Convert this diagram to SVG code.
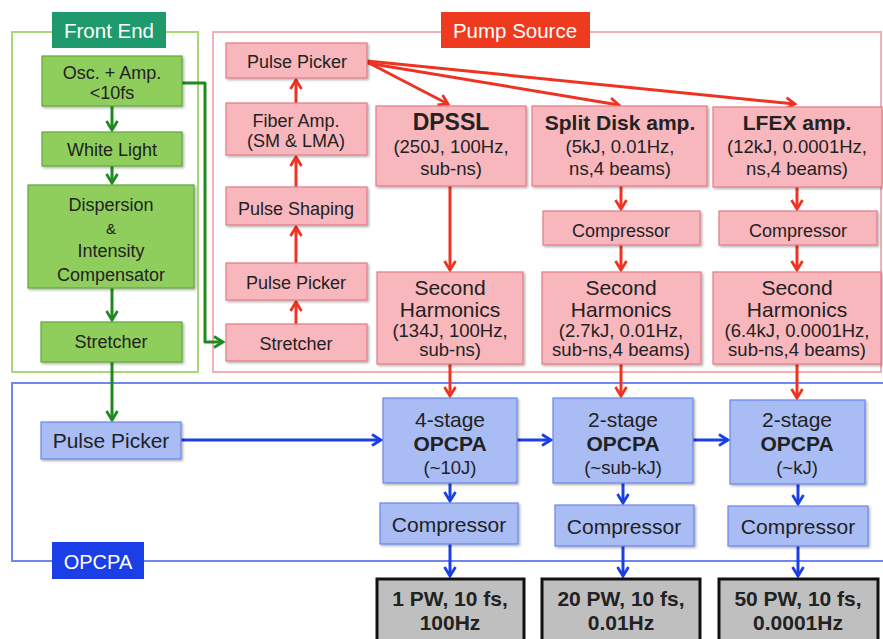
<svg xmlns="http://www.w3.org/2000/svg" width="883" height="639" viewBox="0 0 883 639">
  <style>
    text { font-family: "Liberation Sans", Arial, sans-serif; fill: #222; text-anchor: middle; }
    .b { font-weight: bold; }
    .grp { fill: none; stroke-width: 2; }
    .g { fill: #8fce5c; stroke: #5fa83a; stroke-width: 1.2; filter: url(#sh); }
    .p { fill: #f8b6bd; stroke: #e57b84; stroke-width: 1.2; filter: url(#sh); }
    .u { fill: #a9bcf4; stroke: #6c86ec; stroke-width: 1.2; filter: url(#sh); }
    .o { fill: #bfbfbf; stroke: #111; stroke-width: 3; }
    .lg { fill: none; stroke: #1f8a1f; stroke-width: 3; stroke-linejoin: round; }
    .lr { fill: none; stroke: #ee3322; stroke-width: 3; stroke-linejoin: round; }
    .lb { fill: none; stroke: #1a3fe6; stroke-width: 3; stroke-linejoin: round; }
    .t18 { font-size: 18px; }
    .t21 { font-size: 21px; }
    .lbl { fill: #fff; font-size: 20.5px; }
  </style>
  <defs>
    <filter id="sh" x="-10%" y="-10%" width="130%" height="140%">
      <feDropShadow dx="1.5" dy="1.5" stdDeviation="1" flood-color="#000" flood-opacity="0.3"/>
    </filter>
    <marker id="ag" viewBox="0 0 10 10" refX="8" refY="5" markerWidth="4.6" markerHeight="4.6" orient="auto" markerUnits="strokeWidth">
      <polyline points="1.5,1 8,5 1.5,9" fill="none" stroke="#1f8a1f" stroke-width="2"/>
    </marker>
    <marker id="ar" viewBox="0 0 10 10" refX="8" refY="5" markerWidth="4.6" markerHeight="4.6" orient="auto" markerUnits="strokeWidth">
      <polyline points="1.5,1 8,5 1.5,9" fill="none" stroke="#ee3322" stroke-width="2"/>
    </marker>
    <marker id="ab" viewBox="0 0 10 10" refX="8" refY="5" markerWidth="4.6" markerHeight="4.6" orient="auto" markerUnits="strokeWidth">
      <polyline points="1.5,1 8,5 1.5,9" fill="none" stroke="#1a3fe6" stroke-width="2"/>
    </marker>
  </defs>

  <rect width="883" height="639" fill="#fff"/>

  <!-- section frames -->
  <g id="frames">
    <rect class="grp" x="12" y="32" width="186" height="340" stroke="#a8d87a"/>
    <rect class="grp" x="213" y="32" width="668" height="340" stroke="#f4b1b5"/>
    <rect class="grp" x="12" y="383" width="874" height="178" stroke="#7086ee"/>
  </g>

  <!-- section labels -->
  <g id="label-front-end">
    <rect x="52" y="12" width="114" height="36" fill="#1f9a6c"/>
    <text class="lbl" x="109" y="38">Front End</text>
  </g>
  <g id="label-pump-source">
    <rect x="441" y="12" width="149" height="36" fill="#ee3a1e"/>
    <text class="lbl" x="515" y="38">Pump Source</text>
  </g>
  <g id="label-opcpa">
    <rect x="52" y="542" width="92" height="37" fill="#1a3fe6"/>
    <text class="lbl" x="98" y="569" style="font-size:20px">OPCPA</text>
  </g>

  <!-- connectors -->
  <g id="connectors">
    <!-- front end chain -->
    <line class="lg" x1="112" y1="106" x2="112" y2="130" marker-end="url(#ag)"/>
    <line class="lg" x1="112" y1="166" x2="112" y2="183" marker-end="url(#ag)"/>
    <line class="lg" x1="112" y1="288" x2="112" y2="320" marker-end="url(#ag)"/>
    <line class="lg" x1="112" y1="362" x2="112" y2="420" marker-end="url(#ag)"/>
    <polyline class="lg" points="182,83 205,83 205,342 223,342" marker-end="url(#ag)"/>
    <!-- pump chain (upwards) -->
    <line class="lr" x1="296" y1="103" x2="296" y2="80" marker-end="url(#ar)"/>
    <line class="lr" x1="296" y1="187" x2="296" y2="157" marker-end="url(#ar)"/>
    <line class="lr" x1="296" y1="263" x2="296" y2="227" marker-end="url(#ar)"/>
    <line class="lr" x1="296" y1="324" x2="296" y2="302" marker-end="url(#ar)"/>
    <!-- fan-out to pump lasers -->
    <line class="lr" x1="367" y1="62" x2="448" y2="104" marker-end="url(#ar)"/>
    <line class="lr" x1="367" y1="63" x2="619" y2="105" marker-end="url(#ar)"/>
    <line class="lr" x1="367" y1="61" x2="795" y2="104" marker-end="url(#ar)"/>
    <!-- pump lasers down -->
    <line class="lr" x1="450" y1="186" x2="450" y2="270" marker-end="url(#ar)"/>
    <line class="lr" x1="621" y1="186" x2="621" y2="209" marker-end="url(#ar)"/>
    <line class="lr" x1="621" y1="245" x2="621" y2="270" marker-end="url(#ar)"/>
    <line class="lr" x1="797" y1="187" x2="797" y2="209" marker-end="url(#ar)"/>
    <line class="lr" x1="797" y1="245" x2="797" y2="270" marker-end="url(#ar)"/>
    <line class="lr" x1="450" y1="364" x2="450" y2="396" marker-end="url(#ar)"/>
    <line class="lr" x1="621" y1="364" x2="621" y2="396" marker-end="url(#ar)"/>
    <line class="lr" x1="797" y1="364" x2="797" y2="398" marker-end="url(#ar)"/>
    <!-- OPCPA chain -->
    <line class="lb" x1="181" y1="440" x2="381" y2="440" marker-end="url(#ab)"/>
    <line class="lb" x1="517" y1="440" x2="551" y2="440" marker-end="url(#ab)"/>
    <line class="lb" x1="693" y1="440" x2="728" y2="440" marker-end="url(#ab)"/>
    <line class="lb" x1="450" y1="483" x2="450" y2="501" marker-end="url(#ab)"/>
    <line class="lb" x1="623" y1="483" x2="623" y2="503" marker-end="url(#ab)"/>
    <line class="lb" x1="798" y1="484" x2="798" y2="504" marker-end="url(#ab)"/>
    <line class="lb" x1="450" y1="544" x2="450" y2="576" marker-end="url(#ab)"/>
    <line class="lb" x1="623" y1="546" x2="623" y2="576" marker-end="url(#ab)"/>
    <line class="lb" x1="798" y1="546" x2="798" y2="576" marker-end="url(#ab)"/>
  </g>

  <!-- Front End nodes -->
  <g id="osc-amp">
    <rect class="g" x="42" y="56" width="140" height="50"/>
    <text class="t18" x="112" y="79">Osc. + Amp.</text>
    <text class="t18" x="112" y="99">&lt;10fs</text>
  </g>
  <g id="white-light">
    <rect class="g" x="42" y="132" width="140" height="34"/>
    <text class="t18" x="112" y="156">White Light</text>
  </g>
  <g id="dispersion">
    <rect class="g" x="28" y="185" width="166" height="103"/>
    <text class="t18" x="111" y="211">Dispersion</text>
    <text class="t18" x="111" y="234" style="font-size:15px">&amp;</text>
    <text class="t18" x="111" y="257">Intensity</text>
    <text class="t18" x="111" y="281">Compensator</text>
  </g>
  <g id="fe-stretcher">
    <rect class="g" x="41" y="322" width="141" height="40"/>
    <text class="t18" x="111" y="348">Stretcher</text>
  </g>

  <!-- Pump Source nodes -->
  <g id="pump-pulse-picker-1">
    <rect class="p" x="226" y="43" width="141" height="35"/>
    <text class="t18" x="297" y="68">Pulse Picker</text>
  </g>
  <g id="fiber-amp">
    <rect class="p" x="226" y="103" width="141" height="52"/>
    <text class="t18" x="296" y="127">Fiber Amp.</text>
    <text class="t18" x="296" y="147">(SM &amp; LMA)</text>
  </g>
  <g id="pulse-shaping">
    <rect class="p" x="226" y="187" width="141" height="38"/>
    <text class="t18" x="296" y="215">Pulse Shaping</text>
  </g>
  <g id="pump-pulse-picker-2">
    <rect class="p" x="226" y="263" width="141" height="37"/>
    <text class="t18" x="296" y="289">Pulse Picker</text>
  </g>
  <g id="pump-stretcher">
    <rect class="p" x="226" y="324" width="141" height="37"/>
    <text class="t18" x="296" y="350">Stretcher</text>
  </g>

  <g id="dpssl">
    <rect class="p" x="376" y="106" width="150" height="80"/>
    <text class="b" x="451" y="130" style="font-size:23px">DPSSL</text>
    <text class="t18" x="451" y="153" style="font-size:18.5px">(250J, 100Hz,</text>
    <text class="t18" x="451" y="175" style="font-size:18.5px">sub-ns)</text>
  </g>
  <g id="split-disk">
    <rect class="p" x="532" y="106" width="175" height="80"/>
    <text class="b" x="620" y="130" style="font-size:21px">Split Disk amp.</text>
    <text class="t18" x="620" y="153" style="font-size:18.5px">(5kJ, 0.01Hz,</text>
    <text class="t18" x="620" y="175" style="font-size:18.5px">ns,4 beams)</text>
  </g>
  <g id="lfex">
    <rect class="p" x="713" y="107" width="169" height="80"/>
    <text class="b" x="797" y="130" style="font-size:21px">LFEX amp.</text>
    <text class="t18" x="797" y="153" style="font-size:18.5px">(12kJ, 0.0001Hz,</text>
    <text class="t18" x="797" y="175" style="font-size:18.5px">ns,4 beams)</text>
  </g>
  <g id="split-compressor">
    <rect class="p" x="543" y="211" width="157" height="34"/>
    <text class="t18" x="621" y="237">Compressor</text>
  </g>
  <g id="lfex-compressor">
    <rect class="p" x="719" y="211" width="158" height="34"/>
    <text class="t18" x="798" y="237">Compressor</text>
  </g>
  <g id="shg-dpssl">
    <rect class="p" x="377" y="272" width="146" height="92"/>
    <text class="t21" x="450" y="295">Second</text>
    <text class="t21" x="450" y="317">Harmonics</text>
    <text class="t18" x="450" y="337" style="font-size:18.5px">(134J, 100Hz,</text>
    <text class="t18" x="450" y="356" style="font-size:18.5px">sub-ns)</text>
  </g>
  <g id="shg-split">
    <rect class="p" x="542" y="272" width="159" height="92"/>
    <text class="t21" x="621" y="295">Second</text>
    <text class="t21" x="621" y="317">Harmonics</text>
    <text class="t18" x="621" y="337" style="font-size:18.5px">(2.7kJ, 0.01Hz,</text>
    <text class="t18" x="621" y="356" style="font-size:18.5px">sub-ns,4 beams)</text>
  </g>
  <g id="shg-lfex">
    <rect class="p" x="713" y="272" width="168" height="92"/>
    <text class="t21" x="797" y="295">Second</text>
    <text class="t21" x="797" y="317">Harmonics</text>
    <text class="t18" x="797" y="337" style="font-size:18.5px">(6.4kJ, 0.0001Hz,</text>
    <text class="t18" x="797" y="356" style="font-size:18.5px">sub-ns,4 beams)</text>
  </g>

  <!-- OPCPA nodes -->
  <g id="opcpa-pulse-picker">
    <rect class="u" x="41" y="422" width="140" height="37"/>
    <text class="t21" x="111" y="448">Pulse Picker</text>
  </g>
  <g id="opcpa-4stage">
    <rect class="u" x="383" y="398" width="134" height="85"/>
    <text class="t21" x="450" y="427">4-stage</text>
    <text class="b t21" x="450" y="451">OPCPA</text>
    <text class="t18" x="450" y="474" style="font-size:18.5px">(~10J)</text>
  </g>
  <g id="opcpa-2stage-a">
    <rect class="u" x="553" y="398" width="140" height="85"/>
    <text class="t21" x="623" y="427">2-stage</text>
    <text class="b t21" x="623" y="451">OPCPA</text>
    <text class="t18" x="623" y="474" style="font-size:18.5px">(~sub-kJ)</text>
  </g>
  <g id="opcpa-2stage-b">
    <rect class="u" x="730" y="400" width="135" height="84"/>
    <text class="t21" x="797" y="427">2-stage</text>
    <text class="b t21" x="797" y="451">OPCPA</text>
    <text class="t18" x="797" y="474" style="font-size:18.5px">(~kJ)</text>
  </g>
  <g id="compressor-1">
    <rect class="u" x="380" y="503" width="138" height="41"/>
    <text class="t21" x="449" y="532">Compressor</text>
  </g>
  <g id="compressor-2">
    <rect class="u" x="555" y="505" width="139" height="41"/>
    <text class="t21" x="624" y="534">Compressor</text>
  </g>
  <g id="compressor-3">
    <rect class="u" x="728" y="506" width="140" height="40"/>
    <text class="t21" x="798" y="534">Compressor</text>
  </g>

  <!-- outputs -->
  <g id="out-1">
    <rect class="o" x="377" y="579" width="147" height="70"/>
    <text class="b t21" x="450" y="606">1 PW, 10 fs,</text>
    <text class="b t21" x="450" y="630">100Hz</text>
  </g>
  <g id="out-2">
    <rect class="o" x="542" y="579" width="158" height="70"/>
    <text class="b t21" x="621" y="606">20 PW, 10 fs,</text>
    <text class="b t21" x="621" y="630">0.01Hz</text>
  </g>
  <g id="out-3">
    <rect class="o" x="719" y="579" width="159" height="70"/>
    <text class="b t21" x="798" y="606">50 PW, 10 fs,</text>
    <text class="b t21" x="798" y="630">0.0001Hz</text>
  </g>
</svg>
